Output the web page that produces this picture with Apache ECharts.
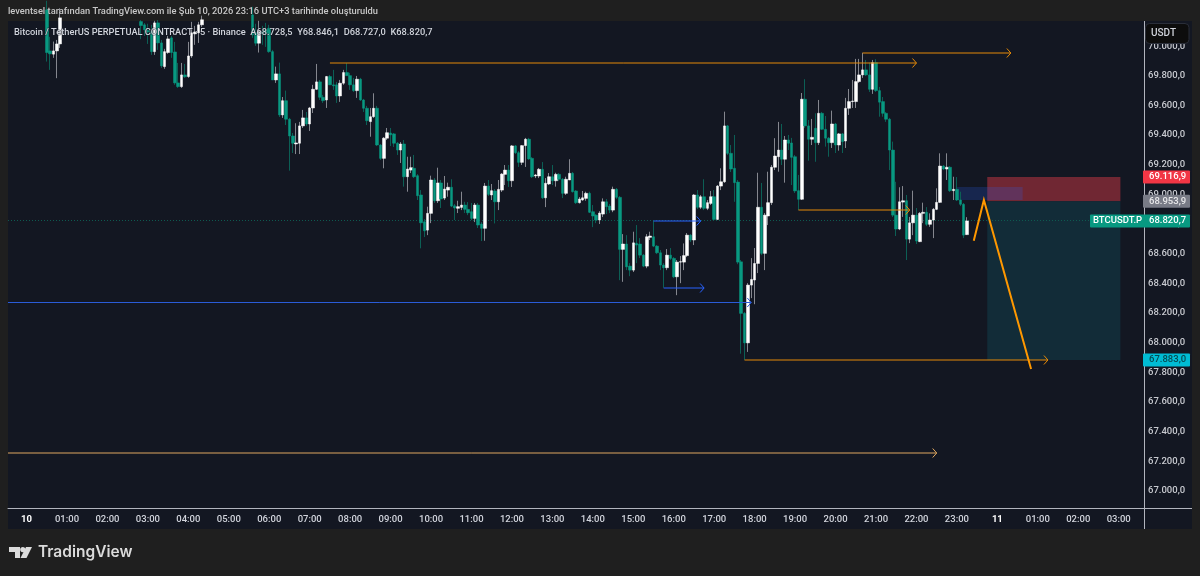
<!DOCTYPE html>
<html><head><meta charset="utf-8">
<style>html,body{margin:0;padding:0;background:#1f1f1f}#c{width:1200px;height:576px}</style>
<script src="https://cdn.jsdelivr.net/npm/echarts@6/dist/echarts.min.js"></script>
</head><body><div id="c"></div>
<script>
// 5-minute bars. Bars that sit above the visible price range are left empty.
const hiddenBefore = Array(11).fill(null);   // 23:35 .. 00:25
const hiddenA = Array(23).fill(null);        // 00:55 .. 02:45
const hiddenB = Array(14).fill(null);        // 04:25 .. 05:30
const opens = [...hiddenBefore,
70245,69968,69946,69968,70015,...hiddenA,
70166,70144,70106,70098,69963,70157,70022,69862,69957,70056,69961,69752,69727,69806,69795,69934,70083,70090,70144,...hiddenB,
70211,70090,70020,70096,70110,70121,69963,69772,69813,69536,
69632,69507,69394,69340,69345,69462,69516,69475,69583,69709,
69759,69655,69637,69795,69739,69739,69664,69750,69822,69801,
69739,69700,69777,69637,69581,69491,69524,69581,69333,69243,
69379,69414,69408,69345,69299,69340,69119,69164,69176,69126,
68996,68815,68759,68872,69097,68957,69077,68975,69029,69048,
68923,68906,68912,68928,68899,68883,68838,68928,68800,68771,
69056,68996,69023,68950,69029,69135,69164,69092,69327,69281,
69216,69329,69372,69243,69124,69124,69169,68977,69070,69119,
69092,69135,69102,69007,69097,69142,69023,68944,68962,68973,
69007,68883,68860,68827,68867,68950,68921,68894,69034,68980,
68629,68665,68516,68489,68669,68665,68590,68516,68710,68714,
68651,68606,68523,68505,68590,68568,68444,68543,68543,68587,
68725,68692,68996,68913,68984,68906,68939,68984,68831,69056,
69085,69462,69277,69176,69083,68545,68197,67998,68388,68422,
68534,68913,68602,68854,68944,69183,69254,69299,69237,69367,
69347,69254,69025,68967,69642,69462,69372,69446,69349,69547,
69439,69379,69349,69475,69333,69408,69360,69581,69626,69626,
69761,69806,69840,69806,69709,69889,69700,69626,69547,69507,
69299,68860,68766,68948,68957,68698,68808,68860,68681,68872,
68879,68798,68827,68899,68946,69191,69171,69183,69025,69034,
68962,68933,68728.5];
const closes = [...hiddenBefore,
69957,69948,69968,70015,70191,...hiddenA,
70139,70110,70096,69963,70157,70022,69867,69963,70049,69957,69752,69727,69806,69793,69934,70090,70096,70144,70178,...hiddenB,
70076,70020,70098,70083,70090,69963,69772,69813,69536,69632,
69507,69394,69345,69347,69462,69516,69475,69583,69709,69759,
69655,69632,69795,69739,69732,69664,69750,69822,69801,69739,
69700,69777,69637,69581,69497,69524,69581,69333,69243,69379,
69416,69401,69345,69299,69340,69119,69171,69180,69119,68991,
68808,68754,68872,69097,68957,69077,68969,69036,69048,68921,
68908,68917,68928,68899,68876,68838,68928,68793,68771,69056,
69000,69025,68950,69034,69137,69164,69092,69327,69281,69216,
69329,69372,69239,69119,69131,69169,68977,69075,69119,69092,
69135,69102,69007,69102,69142,69018,68944,68969,68977,69007,
68879,68854,68827,68874,68950,68917,68894,69034,68980,68629,
68665,68511,68489,68673,68658,68590,68516,68714,68719,68651,
68606,68523,68505,68590,68568,68444,68543,68546,68587,68725,
68692,68996,68913,68984,68906,68944,68984,68831,69056,69085,
69462,69277,69171,69079,68543,68197,67998,68388,68426,68534,
68913,68602,68860,68944,69183,69259,69299,69237,69367,69345,
69250,69023,68967,69642,69462,69372,69385,69349,69547,69439,
69379,69349,69475,69333,69408,69356,69581,69626,69630,69761,
69806,69840,69806,69709,69889,69700,69622,69547,69507,69299,
68860,68766,68950,68957,68698,68808,68860,68685,68872,68879,
68798,68827,68899,68946,69191,69171,69183,69025,69034,68962,
68933,68725,68820.7];
const highs = [...hiddenBefore,
70306,70063,70031,70042,70256,...hiddenA,
70176,70156,70151,70144,70171,70176,70042,69982,70069,70069,70029,69887,69887,69880,70029,70164,70137,70164,70206,...hiddenB,
70266,70151,70171,70137,70157,70144,69975,69862,69889,69657,
69700,69516,69414,69480,69489,69570,69556,69590,69739,69880,
69772,69671,69799,69806,69840,69759,69772,69840,69885,69820,
69786,69799,69786,69644,69597,69583,69682,69597,69340,69387,
69448,69448,69414,69353,69353,69367,69254,69254,69266,69137,
69029,68833,68917,69126,69110,69180,69097,69124,69079,69102,
68935,68957,69018,68950,68948,68942,68942,68942,68813,69077,
69097,69070,69036,69097,69144,69198,69198,69333,69333,69293,
69333,69381,69381,69252,69137,69178,69218,69110,69144,69198,
69146,69144,69110,69119,69237,69151,69029,68982,69023,69018,
69018,68928,68867,68887,68973,68969,68935,69052,69043,68989,
68732,68725,68536,68748,68793,68705,68597,68732,68748,68822,
68658,68624,68536,68631,68638,68577,68557,68584,68669,68739,
68732,69002,69029,68996,69102,68962,69023,69029,69063,69176,
69558,69468,69333,69401,69097,68557,68206,68401,68570,68638,
69146,69077,68874,69153,69198,69379,69489,69475,69394,69401,
69381,69266,69131,69684,69777,69502,69509,69547,69637,69556,
69529,69387,69565,69482,69414,69414,69651,69711,69772,69914,
69914,69955,69907,69889,69907,69912,69725,69657,69556,69516,
69356,69085,69048,69056,68996,68848,69025,68908,68881,68944,
68914,68872,68908,69041,69277,69198,69277,69191,69119,69117,
69018,68942,68846.1];
const lows = [...hiddenBefore,
69896,69840,69921,69784,69988,...hiddenA,
70047,70069,70015,69941,69941,69975,69853,69847,69948,69921,69739,69718,69718,69786,69786,69921,70009,70022,70130,...hiddenB,
70056,70002,69957,70009,69995,69955,69772,69752,69522,69516,
69468,69160,69279,69272,69272,69448,69462,69428,69549,69705,
69637,69617,69583,69739,69705,69617,69624,69739,69799,69705,
69691,69651,69630,69556,69468,69389,69516,69326,69232,69176,
69367,69326,69320,69266,69212,69052,69018,69144,69110,68962,
68636,68712,68725,68806,68942,68942,68908,68962,68984,68914,
68827,68874,68894,68874,68860,68827,68813,68773,68685,68687,
68989,68962,68804,68894,69016,69063,69050,69050,69272,69185,
69198,69185,69232,69110,69110,69110,68969,68914,69063,69063,
69052,69090,68975,68996,69097,69012,68935,68938,68957,68957,
68874,68779,68806,68800,68847,68867,68874,68880,68969,68421,
68410,68489,68448,68476,68536,68570,68509,68502,68692,68644,
68597,68489,68370,68489,68557,68435,68320,68401,68489,68577,
68678,68658,68901,68901,68894,68894,68928,68827,68827,69029,
69077,69266,69151,68950,68529,67925,67883,67937,68300,68259,
68469,68590,68489,68793,68928,69164,69153,69198,69079,69299,
69063,69009,68894,68962,69448,69227,69333,69220,69333,69435,
69322,69254,69313,69279,69295,69279,69313,69536,69583,69583,
69752,69786,69799,69691,69678,69691,69524,69524,69489,69164,
68847,68719,68759,68848,68557,68671,68725,68665,68678,68806,
68786,68781,68705,68894,68942,69164,69097,69016,68962,68955,
68921,68705,68727];

const priceTicks = [67000,67200,67400,67600,67800,68000,68200,68400,68600,68800,69000,69200,69400,69600,69800,70000];
const dayLabels = ['10','11'];

// bar numbers below count from the first slot on the time axis
const hLines = [
  {from:95,  to:269, price:69886, color:'#e58a08'},
  {from:253, to:297, price:69955, color:'#e58a08'},
  {from:234, to:267, price:68893, color:'#e58a08'},
  {from:218, to:308, price:67883, color:'#e58a08'},
  {from:-1,  to:275, price:67253, color:'#e0a860'},
  {from:-1,  to:220, price:68272, color:'#2a5cd8', sharp:true},
  {from:191, to:205, price:68822, color:'#2962ff'},
  {from:194, to:206, price:68370, color:'#2962ff'}
];
const zones = [
  {from:290, to:329, top:69116.9, bottom:68953.9, color:'#702733'},
  {from:290, to:329, top:68953.9, bottom:67883,   color:'#122c38'},
  {from:281, to:300, top:69050,   bottom:68962,   color:'rgba(41,98,255,0.2)'}
];
const zigzagBars = [286,289,303];
const zigzagPrices = [68687,68962,67822];
const lastPrice = 68820.7;
const priceTags = [
  {price:69116.9, text:'69.116,9', bg:'#f23645', fg:'#ffffff'},
  {price:68953.9, text:'68.953,9', bg:'#787b86', fg:'#e8e8ea'},
  {price:68820.7, text:'68.820,7', bg:'#089981', fg:'#ffffff', name:'BTCUSDT.P'},
  {price:67883,   text:'67.883,0', bg:'#00bcd4', fg:'#064a52'}
];

// time axis slots, one per 5 minutes, first slot is 23:35 of the previous day
const barCount = 337;
const slots = [];
for (let k = 0; k < barCount; k++) {
  const minutes = (23*60+35 + k*5) % 1440;
  const h = Math.floor(minutes/60), m = minutes%60;
  if (minutes === 0) slots.push(dayLabels[k < 100 ? 0 : 1]);
  else slots.push(String(h).padStart(2,'0')+':'+String(m).padStart(2,'0'));
}
const wickData = opens.map((o,i)=> o==null ? '-' : [o,closes[i],lows[i],highs[i]]);
const bodyData = opens.map((o,i)=> o==null ? '-' : [o,closes[i],Math.min(o,closes[i]),Math.max(o,closes[i])]);

const FONT = 'Roboto, "Noto Sans", sans-serif';
const LABEL = '500 9.5px '+FONT;
const panelBg = '#131722', gridLine = '#b2b5be';

const chart = echarts.init(document.getElementById('c'), null, {renderer:'canvas'});
chart.setOption({
  animation:false,
  backgroundColor:'#1f1f1f',
  title:[
    {text:'leventsel tarafından TradingView.com ile Şub 10, 2026 23:16 UTC+3 tarihinde oluşturuldu', left:8, top:7, padding:0,
     textStyle:{color:'#c8c8c8',fontSize:9.3,fontWeight:500,fontFamily:FONT}},
    {text:'Bitcoin / TetherUS PERPETUAL CONTRACT · 5 · Binance  A68.728,5  Y68.846,1  D68.727,0  K68.820,7', left:14, top:28, padding:0, z:8,
     textStyle:{color:'#d1d4dc',fontSize:9.25,fontWeight:500,fontFamily:FONT,textBorderColor:'rgba(19,23,34,0.6)',textBorderWidth:1}},
    {text:'TradingView', left:38, top:544, padding:0,
     textStyle:{color:'#dbdbdb',fontSize:15.5,fontWeight:600,fontFamily:'Inter, Roboto, sans-serif'}}
  ],
  grid:{left:8,right:56,top:22,bottom:68,containLabel:false},
  xAxis:{type:'category',data:slots,boundaryGap:true,
    axisLine:{show:true,lineStyle:{color:gridLine,width:1}},
    axisTick:{show:false},splitLine:{show:false},
    axisLabel:{color:'#d1d4dc',fontSize:9.5,fontWeight:500,fontFamily:FONT,margin:7,showMinLabel:true,
      interval:(idx,val)=>val.endsWith(':00')||dayLabels.includes(val),
      formatter:val=>dayLabels.includes(val)?'{b|'+val+'}':val,
      rich:{b:{color:'#ffffff',fontWeight:700,fontSize:9.5,fontFamily:FONT}}}},
  yAxis:{type:'value',position:'right',min:66884,max:70163,
    axisLine:{show:true,onZero:false,lineStyle:{color:gridLine,width:1}},
    axisTick:{show:false},splitLine:{show:false},
    axisLabel:{color:'#c8cad0',fontSize:9.5,fontWeight:500,fontFamily:FONT,margin:4,align:'left',
      customValues:priceTicks,
      formatter:v=>v.toLocaleString('de-DE',{minimumFractionDigits:1,maximumFractionDigits:1})}},
  graphic:[
    {type:'rect',z:-10,silent:true,shape:{x:8,y:21,width:1184,height:508},style:{fill:panelBg}},
    {type:'rect',z:20,silent:true,shape:{x:8,y:508,width:1184,height:1},style:{fill:gridLine}},
    {type:'rect',z:1,silent:true,shape:{x:1144,y:21,width:1,height:508},style:{fill:gridLine}},
    {type:'rect',z:30,silent:true,shape:{x:1145,y:22,width:46,height:22},style:{fill:panelBg}},
    {type:'rect',z:31,silent:true,shape:{x:1145.5,y:23.5,width:43.5,height:20,r:4},style:{fill:'#0d0d0d',stroke:'#2a2e39',lineWidth:1}},
    {type:'text',z:32,silent:true,x:1151,y:28,style:{text:'USDT',fill:'#d1d4dc',font:'500 10px '+FONT}},
    {type:'polygon',silent:true,shape:{points:[[9,547],[20,547],[20,558],[15,558],[15,552],[9,552]]},style:{fill:'#dbdbdb'}},
    {type:'circle',silent:true,shape:{cx:22.8,cy:549.6,r:2.6},style:{fill:'#dbdbdb'}},
    {type:'polygon',silent:true,shape:{points:[[26,547],[32,547],[26.5,558],[20.5,558]]},style:{fill:'#dbdbdb'}}
  ],
  series:[
    {type:'custom',name:'Zones',coordinateSystem:'cartesian2d',silent:true,clip:true,z:1,
      data:zones.map(d=>[d.from,d.top,d.to,d.bottom]),
      renderItem:(p,api)=>{
        const a=api.coord([api.value(0),api.value(1)]),b=api.coord([api.value(2),api.value(3)]);
        const half=api.size([1,0])[0]/2;
        return {type:'rect',shape:{x:a[0],y:a[1],width:b[0]+half-a[0],height:b[1]-a[1]},style:{fill:zones[p.dataIndex].color}};
      }},
    {type:'custom',name:'Last price',coordinateSystem:'cartesian2d',silent:true,clip:true,z:1,
      data:[[0,lastPrice]],
      renderItem:(p,api)=>{
        const y=Math.round(api.coord([0,lastPrice])[1]-0.5)+0.5;
        return {type:'line',shape:{x1:p.coordSys.x,y1:y,x2:p.coordSys.x+p.coordSys.width,y2:y},
          style:{stroke:'#0e5a50',lineWidth:1,lineDash:[1,2]}};
      }},
    {type:'candlestick',name:'Wicks',data:wickData,barWidth:1,silent:true,z:2,
      itemStyle:{color:'#85878f',color0:'#0c5f55',borderColor:'#85878f',borderColor0:'#0c5f55',borderWidth:1}},
    {type:'candlestick',name:'BTCUSDT.P',data:bodyData,barWidth:3,silent:true,z:3,
      itemStyle:{color:'#ffffff',color0:'#089981',borderColor:'#ffffff',borderColor0:'#089981',borderWidth:0.5}},
    {type:'custom',name:'Lines',coordinateSystem:'cartesian2d',silent:true,clip:true,z:4,
      data:hLines.map(d=>[d.from,d.price,d.to]),
      renderItem:(p,api)=>{
        const d=hLines[p.dataIndex];
        const a=api.coord([api.value(0),api.value(1)]),b=api.coord([api.value(2),api.value(1)]);
        const y=d.sharp ? Math.round(a[1]-0.5)+0.5 : Math.round(a[1]);
        const st={stroke:d.color,lineWidth:1,fill:null};
        return {type:'group',children:[
          {type:'line',shape:{x1:a[0],y1:y,x2:b[0],y2:y},style:st},
          {type:'polyline',shape:{points:[[b[0]-4,y-4.5],[b[0],y],[b[0]-4,y+4.5]]},style:st}
        ]};
      }},
    {type:'custom',name:'Zigzag',coordinateSystem:'cartesian2d',silent:true,clip:true,z:5,
      data:[[0,0]],
      renderItem:(p,api)=>({type:'polyline',
        shape:{points:zigzagBars.map((b,i)=>api.coord([b,zigzagPrices[i]]))},
        style:{stroke:'#ff9800',lineWidth:2,fill:null}})},
    {type:'custom',name:'Tags',coordinateSystem:'cartesian2d',silent:true,clip:false,z:10,
      data:priceTags.map(d=>[0,d.price]),
      renderItem:(p,api)=>{
        const d=priceTags[p.dataIndex];
        const y=api.coord([0,d.price])[1], x=p.coordSys.x+p.coordSys.width;
        const kids=[{type:'rect',shape:{x:x-1,y:y-6.5,width:47,height:13,r:1},style:{fill:d.bg}},
          {type:'text',x:x+5,y:y,style:{text:d.text,fill:d.fg,font:LABEL,textVerticalAlign:'middle'}}];
        if(d.name){
          kids.unshift({type:'rect',shape:{x:x-54,y:y-6.5,width:54,height:13,r:1},style:{fill:d.bg}});
          kids.push({type:'text',x:x-51,y:y,style:{text:d.name,fill:d.fg,font:LABEL,textVerticalAlign:'middle'}});
        }
        return {type:'group',children:kids};
      }}
  ]
});
</script></body></html>
